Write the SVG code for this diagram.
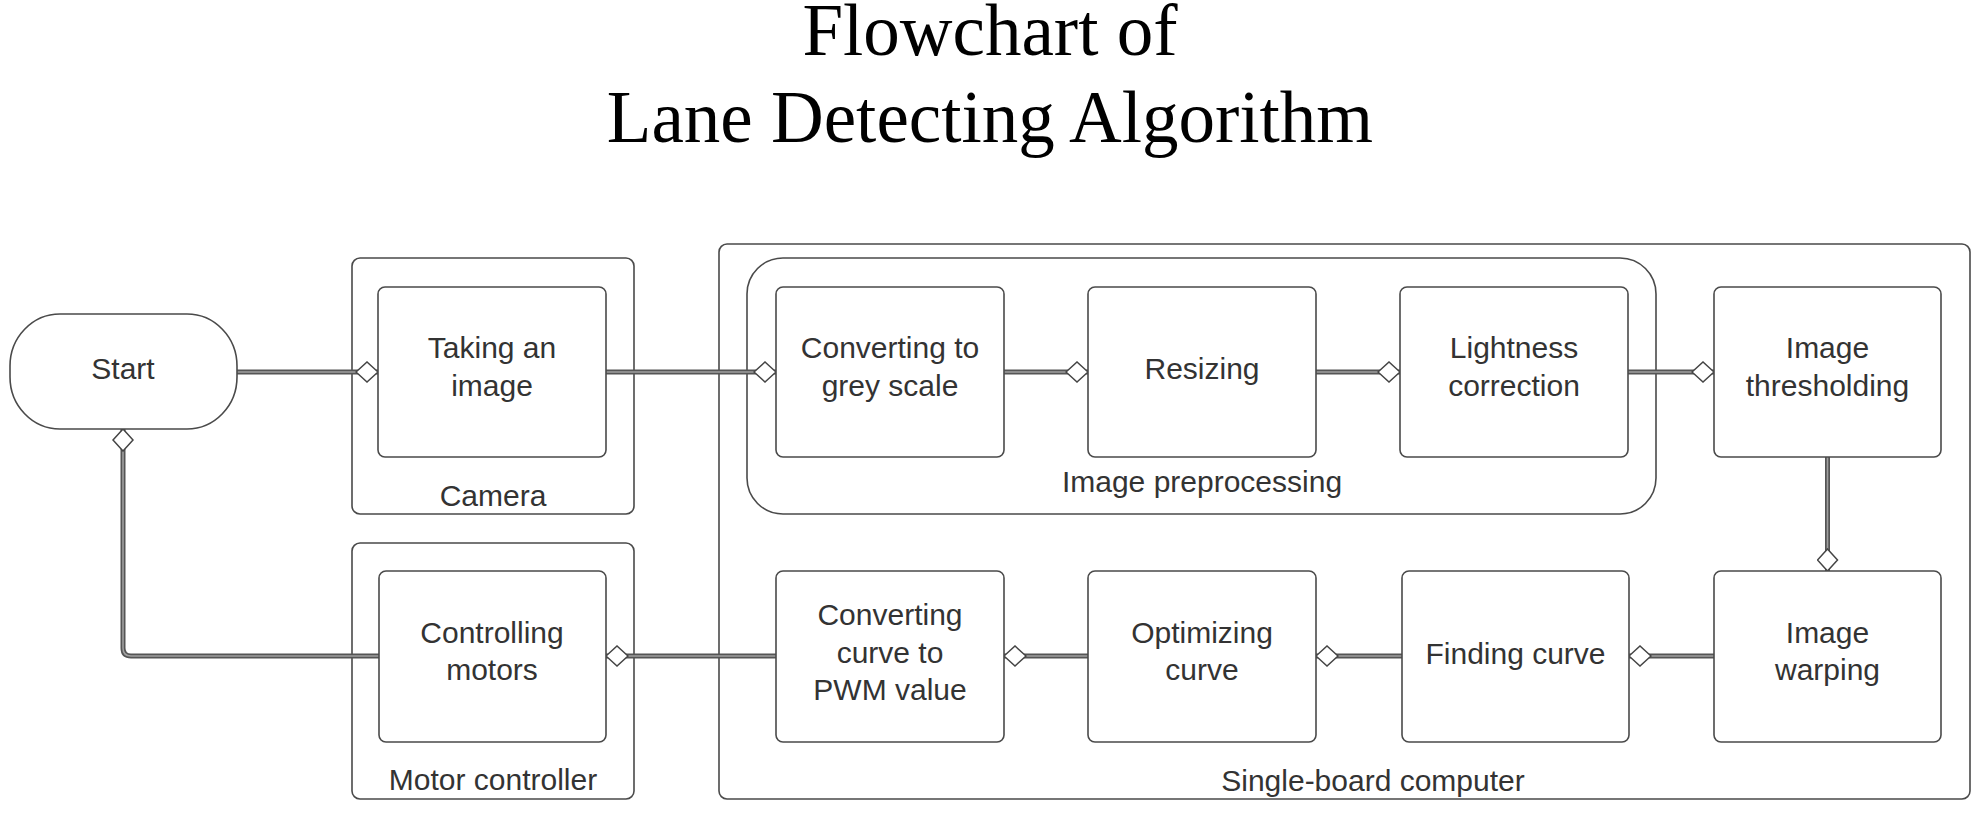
<svg xmlns="http://www.w3.org/2000/svg" width="1988" height="814" viewBox="0 0 1988 814">
<style>
.title{font-family:"Liberation Serif","Times New Roman",serif;font-size:73px;fill:#000;text-anchor:middle}
.lbl{font-family:"Liberation Sans",Arial,sans-serif;font-size:30px;fill:#333;text-anchor:middle}
.box{fill:#fff;stroke:#4a4a4a;stroke-width:1.6}
.grp{fill:none;stroke:#4a4a4a;stroke-width:1.6}
.co{fill:none;stroke:#555;stroke-width:5}
.ci{fill:none;stroke:#a0a0a0;stroke-width:1.6;marker-end:url(#dia)}
</style>
<defs>
<marker id="dia" viewBox="0 0 24 22" refX="23" refY="11" markerWidth="24" markerHeight="22" markerUnits="userSpaceOnUse" orient="auto">
<path d="M1,11 L12,1 L23,11 L12,21 Z" fill="#fff" stroke="#444" stroke-width="1.5"/>
</marker>
</defs>
<rect width="1988" height="814" fill="#fff"/>
<text class="title" x="990" y="55">Flowchart of</text>
<text class="title" x="990" y="142">Lane Detecting Algorithm</text>

<g id="group-single-board">
<rect class="grp" x="719" y="244" width="1251" height="555" rx="8"/>
<text class="lbl" x="1373" y="791">Single-board computer</text>
</g>
<g id="group-preprocessing">
<rect class="grp" x="747" y="258" width="909" height="256" rx="36"/>
<text class="lbl" x="1202" y="492">Image preprocessing</text>
</g>
<g id="group-camera">
<rect class="grp" x="352" y="258" width="282" height="256" rx="8"/>
<text class="lbl" x="493" y="506">Camera</text>
</g>
<g id="group-motor">
<rect class="grp" x="352" y="543" width="282" height="256" rx="8"/>
<text class="lbl" x="493" y="790">Motor controller</text>
</g>

<g id="connectors">
<path class="co" d="M237,372 H378"/><path class="ci" d="M237,372 H378"/>
<path class="co" d="M606,372 H776"/><path class="ci" d="M606,372 H776"/>
<path class="co" d="M1004,372 H1088"/><path class="ci" d="M1004,372 H1088"/>
<path class="co" d="M1316,372 H1400"/><path class="ci" d="M1316,372 H1400"/>
<path class="co" d="M1628,372 H1714"/><path class="ci" d="M1628,372 H1714"/>
<path class="co" d="M1827.5,457 V571"/><path class="ci" d="M1827.5,457 V571"/>
<path class="co" d="M1714,656 H1629"/><path class="ci" d="M1714,656 H1629"/>
<path class="co" d="M1402,656 H1316"/><path class="ci" d="M1402,656 H1316"/>
<path class="co" d="M1088,656 H1004"/><path class="ci" d="M1088,656 H1004"/>
<path class="co" d="M776,656 H606"/><path class="ci" d="M776,656 H606"/>
<path class="co" d="M379,656 H131 Q123,656 123,648 V429"/><path class="ci" d="M379,656 H131 Q123,656 123,648 V429"/>
</g>

<g id="start">
<rect class="box" x="10" y="314" width="227" height="115" rx="50" ry="52"/>
<text class="lbl" x="123" y="379">Start</text>
</g>
<g id="taking-image">
<rect class="box" x="378" y="287" width="228" height="170" rx="7"/>
<text class="lbl" x="492" y="358">Taking an</text>
<text class="lbl" x="492" y="396">image</text>
</g>
<g id="grey-scale">
<rect class="box" x="776" y="287" width="228" height="170" rx="7"/>
<text class="lbl" x="890" y="358">Converting to</text>
<text class="lbl" x="890" y="396">grey scale</text>
</g>
<g id="resizing">
<rect class="box" x="1088" y="287" width="228" height="170" rx="7"/>
<text class="lbl" x="1202" y="379">Resizing</text>
</g>
<g id="lightness">
<rect class="box" x="1400" y="287" width="228" height="170" rx="7"/>
<text class="lbl" x="1514" y="358">Lightness</text>
<text class="lbl" x="1514" y="396">correction</text>
</g>
<g id="thresholding">
<rect class="box" x="1714" y="287" width="227" height="170" rx="7"/>
<text class="lbl" x="1827.5" y="358">Image</text>
<text class="lbl" x="1827.5" y="396">thresholding</text>
</g>
<g id="warping">
<rect class="box" x="1714" y="571" width="227" height="171" rx="7"/>
<text class="lbl" x="1827.5" y="643">Image</text>
<text class="lbl" x="1827.5" y="680">warping</text>
</g>
<g id="finding-curve">
<rect class="box" x="1402" y="571" width="227" height="171" rx="7"/>
<text class="lbl" x="1515.5" y="664">Finding curve</text>
</g>
<g id="optimizing">
<rect class="box" x="1088" y="571" width="228" height="171" rx="7"/>
<text class="lbl" x="1202" y="643">Optimizing</text>
<text class="lbl" x="1202" y="680">curve</text>
</g>
<g id="pwm">
<rect class="box" x="776" y="571" width="228" height="171" rx="7"/>
<text class="lbl" x="890" y="625">Converting</text>
<text class="lbl" x="890" y="663">curve to</text>
<text class="lbl" x="890" y="700">PWM value</text>
</g>
<g id="controlling-motors">
<rect class="box" x="379" y="571" width="227" height="171" rx="7"/>
<text class="lbl" x="492" y="643">Controlling</text>
<text class="lbl" x="492" y="680">motors</text>
</g>
</svg>
